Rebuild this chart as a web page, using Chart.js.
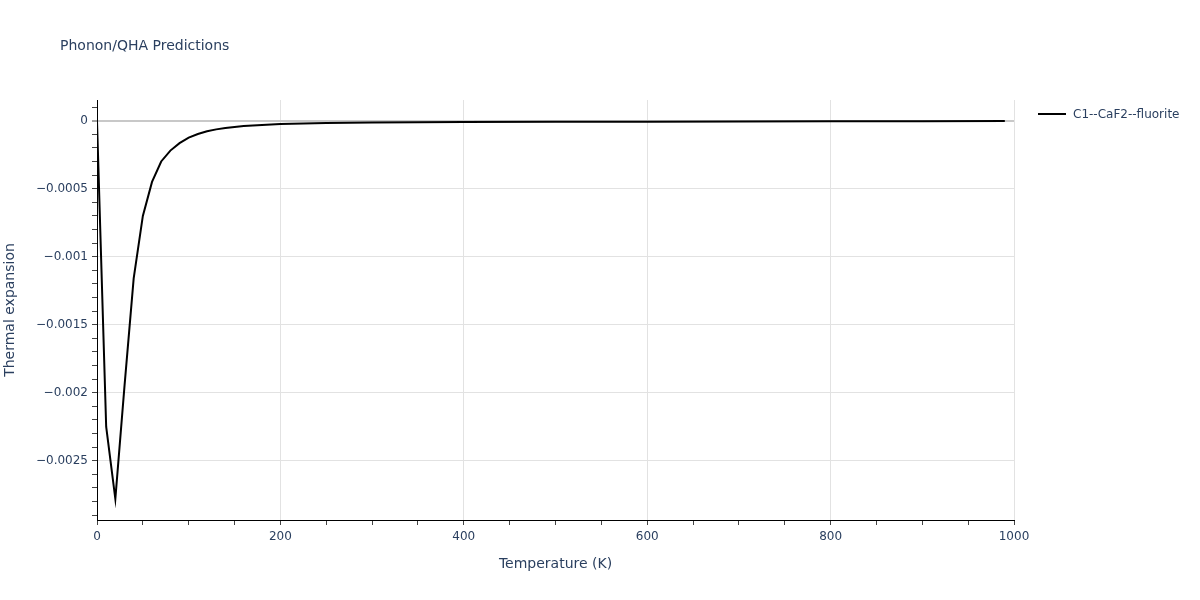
<!DOCTYPE html>
<html>
<head>
<meta charset="utf-8">
<script src="https://cdn.jsdelivr.net/npm/chart.js@4/dist/chart.umd.min.js"></script>
<style>
  body { margin: 0; background: #fff; }
</style>
</head>
<body>
<canvas id="qha" width="1200" height="600"></canvas>
<script>
const titleText = "Phonon/QHA Predictions";
const seriesName = "C1--CaF2--fluorite";

// temperature (K) and thermal expansion
const temperatures = [0, 10, 20, 30, 40, 50, 60, 70, 80, 90, 100, 110, 120, 130, 140, 150,
  160, 170, 180, 190, 200, 250, 300, 350, 400, 500, 600, 700, 800, 900, 990];
const expansion = [0, -0.00225, -0.00278, -0.00195, -0.00116, -0.0007, -0.00045, -0.0003,
  -0.00022, -0.000165, -0.000125, -0.000098, -0.000078, -0.000064, -0.000054, -0.000046,
  -0.00004, -0.000035, -0.000031, -0.000028, -0.000025, -0.000018, -0.000014, -0.000012,
  -0.00001, -0.000008, -0.000007, -0.000006, -0.000005, -0.000004, -0.000003];

const xTickLabels = ["0", "200", "400", "600", "800", "1000"];
const yTickLabels = ["0", "\u22120.0005", "\u22120.001", "\u22120.0015", "\u22120.002", "\u22120.0025"];

const textColor = "#2a3f5f";
const fontFamily = "'DejaVu Sans', sans-serif";

// title + legend drawn in the padding area, like plotly does
const headerPlugin = {
  id: "header",
  afterDraw(chart) {
    const ctx = chart.ctx;
    ctx.save();
    ctx.fillStyle = textColor;
    ctx.textBaseline = "middle";
    ctx.textAlign = "left";
    ctx.font = "14px " + fontFamily;
    ctx.fillText(titleText, 60, 46);

    ctx.strokeStyle = "#000";
    ctx.lineWidth = 2;
    ctx.beginPath();
    ctx.moveTo(1038, 114);
    ctx.lineTo(1066, 114);
    ctx.stroke();
    ctx.font = "12px " + fontFamily;
    ctx.fillText(seriesName, 1073, 115);
    ctx.restore();
  },
};

new Chart(document.getElementById("qha"), {
  type: "line",
  data: {
    datasets: [
      {
        label: seriesName,
        data: temperatures.map((t, i) => ({ x: t, y: expansion[i] })),
        borderColor: "#000",
        borderWidth: 2,
        pointRadius: 0,
        tension: 0,
      },
    ],
  },
  options: {
    responsive: false,
    animation: false,
    layout: { padding: { top: 100, right: 186, left: 0, bottom: 0 } },
    plugins: {
      legend: { display: false },
      title: { display: false },
      tooltip: { enabled: false },
    },
    scales: {
      x: {
        type: "linear",
        min: 0,
        max: 1000,
        afterFit: (scale) => { scale.height = 80; },
        ticks: {
          stepSize: 50,
          includeBounds: false,
          maxRotation: 0,
          autoSkip: false,
          color: textColor,
          padding: 5,
          font: { family: fontFamily, size: 12 },
          callback: (v) => (v % 200 === 0 ? xTickLabels[v / 200] : ""),
        },
        grid: {
          color: (c) => (c.tick && c.tick.value % 200 === 0 ? "#e2e2e2" : "rgba(0,0,0,0)"),
          tickColor: "#444",
          tickWidth: 1,
          tickLength: 5,
        },
        border: { color: "#000", width: 1 },
        title: {
          display: true,
          text: "Temperature (K)",
          color: textColor,
          font: { family: fontFamily, size: 14 },
          padding: { top: 0, bottom: 27 },
        },
      },
      y: {
        min: -0.002936,
        max: 0.000152,
        afterFit: (scale) => { scale.width = 97; },
        ticks: {
          stepSize: 0.0001,
          includeBounds: false,
          autoSkip: false,
          color: textColor,
          padding: 4,
          font: { family: fontFamily, size: 12 },
          callback: (v) => {
            const k = Math.round(v * 10000);
            return k % 5 === 0 && k <= 0 ? yTickLabels[-k / 5] : "";
          },
        },
        grid: {
          color: (c) => {
            const k = Math.round(c.tick.value * 10000);
            if (k === 0) return "#c8c8c8";
            return k % 5 === 0 ? "#e2e2e2" : "rgba(0,0,0,0)";
          },
          lineWidth: (c) => (Math.round(c.tick.value * 10000) === 0 ? 2 : 1),
          tickColor: "#444",
          tickWidth: 1,
          tickLength: 5,
        },
        border: { color: "#000", width: 1 },
        title: {
          display: true,
          text: "Thermal expansion",
          color: textColor,
          font: { family: fontFamily, size: 14 },
          padding: { top: 2, bottom: 0 },
        },
      },
    },
  },
  plugins: [headerPlugin],
});
</script>
</body>
</html>
